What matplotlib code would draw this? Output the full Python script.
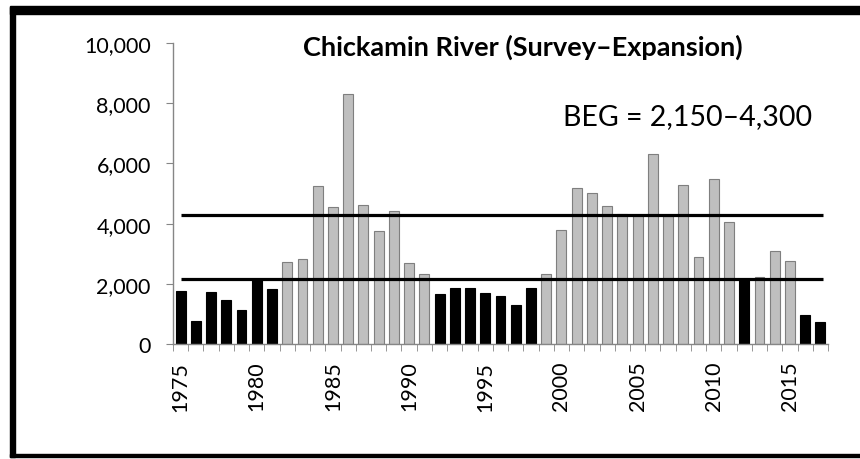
import matplotlib
matplotlib.use('Agg')
import matplotlib.pyplot as plt
from matplotlib.patches import Rectangle
import numpy as np

plt.rcParams['font.family'] = ['Lato', 'DejaVu Sans']

years = list(range(1975, 2018))
escapement = [1770, 750, 1735, 1470, 1140, 2170, 1820, 2710, 2840, 5250,
              4550, 8290, 4630, 3750, 4430, 2690, 2320, 1660, 1850, 1850,
              1690, 1600, 1290, 1870, 2340, 3800, 5180, 5010, 4590, 4310,
              4290, 6320, 4250, 5270, 2900, 5480, 4060, 2150, 2230, 3100,
              2770, 970, 730]
# years drawn as black bars, the rest are gray
black_years = list(range(1975, 1982)) + list(range(1992, 1999)) + [2012, 2016, 2017]
goal_low = 2150
goal_high = 4300

fig = plt.figure(figsize=(8.6, 4.6), dpi=100)
ax = fig.add_axes([173 / 860, 1 - 345 / 460, (828 - 173) / 860, (345 - 44) / 460])

x = np.arange(len(years))
face = ['black' if y in black_years else '#BFBFBF' for y in years]
edge = ['black' if y in black_years else '#7F7F7F' for y in years]
ax.bar(x, escapement, width=0.65, color=face, edgecolor=edge, linewidth=0.8, zorder=2)

# goal lines
ax.hlines([goal_low, goal_high], 0, len(years) - 0.84, color='black', lw=2.3, zorder=3)

ax.set_xlim(-0.5, len(years) - 0.5)
ax.set_ylim(0, 10000)
ax.set_yticks(range(0, 10001, 2000))
ax.set_yticklabels([f'{v:,}' for v in range(0, 10001, 2000)])

major = [i for i, y in enumerate(years) if y % 5 == 0]
ax.set_xticks(major)
ax.set_xticklabels([str(years[i]) for i in major], rotation=90)
ax.set_xticks(np.arange(-0.5, len(years)), minor=True)

for s in ['top', 'right']:
    ax.spines[s].set_visible(False)
for s in ['left', 'bottom']:
    ax.spines[s].set_color('#868686')
    ax.spines[s].set_linewidth(1)

ax.tick_params(axis='y', length=5, color='#868686', labelsize=15.5, pad=11)
ax.tick_params(axis='x', which='major', length=0, labelsize=15.5, pad=12)
ax.tick_params(axis='x', which='minor', length=5, color='#868686')

ax.text(0.534, 0.99, 'Chickamin River (Survey\u2013Expansion)', transform=ax.transAxes,
        ha='center', va='center', fontsize=19.5, fontweight='bold')
ax.text(0.785, 0.757, 'BEG = 2,150\u20134,300', transform=ax.transAxes,
        ha='center', va='center', fontsize=20.5)

# outer frame (partially cropped)
fig.patches.append(Rectangle((10 / 860, 1 - 15 / 460), 870 / 860, 8 / 460,
                             transform=fig.transFigure, color='black'))
fig.patches.append(Rectangle((10 / 860, 1 - 458 / 460), 5 / 860, 450 / 460,
                             transform=fig.transFigure, color='black'))
fig.patches.append(Rectangle((10 / 860, 1 - 458 / 460), 870 / 860, 3 / 460,
                             transform=fig.transFigure, color='black'))

fig.savefig('out.png', dpi=100)
